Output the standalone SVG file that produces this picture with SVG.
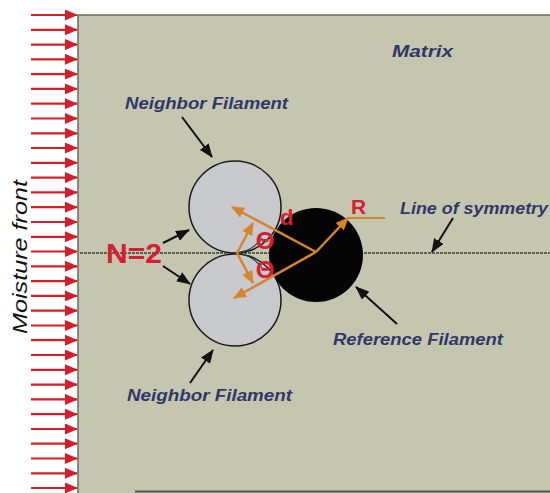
<svg xmlns="http://www.w3.org/2000/svg" width="550" height="493" viewBox="0 0 550 493">
<defs>
<marker id="red" markerWidth="13" markerHeight="11" refX="12" refY="5.5" orient="auto" markerUnits="userSpaceOnUse"><path d="M0,0 L13,5.5 L0,11 Z" fill="#d21f2b"/></marker>
<marker id="blk" markerWidth="14" markerHeight="11" refX="13" refY="5.5" orient="auto" markerUnits="userSpaceOnUse"><path d="M0,0 L14,5.5 L0,11 Z" fill="#111"/></marker>
<marker id="org" markerWidth="13" markerHeight="11" refX="12" refY="5.5" orient="auto" markerUnits="userSpaceOnUse"><path d="M0,0 L13,5.5 L0,11 Z" fill="#d6842e"/></marker>
</defs>
<style>
.lbl{font-family:"Liberation Sans",Arial,sans-serif;font-weight:bold;font-style:italic;font-size:16px;fill:#2f3867}
.red{font-family:"Liberation Sans",Arial,sans-serif;font-weight:bold;fill:#d42030}
.rarr{stroke:#d21f2b;stroke-width:2.2;marker-end:url(#red)}
.barr{stroke:#111;stroke-width:2;marker-end:url(#blk)}
.oarr{stroke:#d6842e;stroke-width:2.5;marker-end:url(#org)}
</style>
<rect width="550" height="493" fill="#ffffff"/>
<g id="matrix">
<rect x="78" y="15" width="474" height="480" fill="#c5c6b0" stroke="#6a6a60" stroke-width="1.5"/>
<line x1="135" y1="491.5" x2="550" y2="491.5" stroke="#55574c" stroke-width="2"/>
<text class="lbl" x="392" y="57" textLength="61" lengthAdjust="spacingAndGlyphs">Matrix</text>
</g>
<g id="moisture-front">
<g class="rarr">
<line x1="31" y1="15" x2="77" y2="15"/><line x1="31" y1="29.8" x2="77" y2="29.8"/><line x1="31" y1="44.6" x2="77" y2="44.6"/><line x1="31" y1="59.3" x2="77" y2="59.3"/><line x1="31" y1="74.1" x2="77" y2="74.1"/><line x1="31" y1="88.9" x2="77" y2="88.9"/><line x1="31" y1="103.7" x2="77" y2="103.7"/><line x1="31" y1="118.5" x2="77" y2="118.5"/><line x1="31" y1="133.3" x2="77" y2="133.3"/><line x1="31" y1="148" x2="77" y2="148"/><line x1="31" y1="162.8" x2="77" y2="162.8"/><line x1="31" y1="177.6" x2="77" y2="177.6"/><line x1="31" y1="192.4" x2="77" y2="192.4"/><line x1="31" y1="207.2" x2="77" y2="207.2"/><line x1="31" y1="222" x2="77" y2="222"/><line x1="31" y1="236.8" x2="77" y2="236.8"/><line x1="31" y1="251.5" x2="77" y2="251.5"/><line x1="31" y1="266.3" x2="77" y2="266.3"/><line x1="31" y1="281.1" x2="77" y2="281.1"/><line x1="31" y1="295.9" x2="77" y2="295.9"/><line x1="31" y1="310.7" x2="77" y2="310.7"/><line x1="31" y1="325.5" x2="77" y2="325.5"/><line x1="31" y1="340.2" x2="77" y2="340.2"/><line x1="31" y1="355" x2="77" y2="355"/><line x1="31" y1="369.8" x2="77" y2="369.8"/><line x1="31" y1="384.6" x2="77" y2="384.6"/><line x1="31" y1="399.4" x2="77" y2="399.4"/><line x1="31" y1="414.2" x2="77" y2="414.2"/><line x1="31" y1="429" x2="77" y2="429"/><line x1="31" y1="443.7" x2="77" y2="443.7"/><line x1="31" y1="458.5" x2="77" y2="458.5"/><line x1="31" y1="473.3" x2="77" y2="473.3"/><line x1="31" y1="488" x2="77" y2="488"/>
</g>
<text x="0" y="0" transform="translate(27,334) rotate(-90)" font-family="'Liberation Sans',Arial,sans-serif" font-style="italic" font-size="21" fill="#111" textLength="154" lengthAdjust="spacingAndGlyphs">Moisture front</text>
</g>
<g id="symmetry-line">
<line x1="80" y1="253" x2="550" y2="253" stroke="#3e3f36" stroke-width="1.5" stroke-dasharray="3,1"/>
<text class="lbl" x="400" y="214" textLength="148" lengthAdjust="spacingAndGlyphs">Line of symmetry</text>
</g>
<g id="neighbor-top">
<circle cx="235" cy="207" r="46" fill="#c8c9cc" stroke="#1a1a1a" stroke-width="1.5"/>
<text class="lbl" x="125" y="109" textLength="163" lengthAdjust="spacingAndGlyphs">Neighbor Filament</text>
</g>
<g id="neighbor-bottom">
<circle cx="235" cy="300" r="46" fill="#c8c9cc" stroke="#1a1a1a" stroke-width="1.5"/>
<text class="lbl" x="127" y="401" textLength="165" lengthAdjust="spacingAndGlyphs">Neighbor Filament</text>
</g>
<g id="reference">
<circle cx="316" cy="255" r="47" fill="#050505"/>
<text class="lbl" x="333" y="345" textLength="170" lengthAdjust="spacingAndGlyphs">Reference Filament</text>
</g>
<g id="connectors">
<line class="barr" x1="182" y1="117" x2="212" y2="157"/>
<line class="barr" x1="190" y1="383" x2="213" y2="350"/>
<line class="barr" x1="397" y1="324" x2="356" y2="287"/>
<line class="barr" x1="453" y1="218" x2="432" y2="252"/>
<line class="barr" x1="163" y1="243" x2="189" y2="230"/>
<line class="barr" x1="163" y1="266" x2="190" y2="284"/>
<path d="M228,253 C245,252 255,258 262,268 M228,253 C245,254 255,248 262,238" fill="none" stroke="#2a3a3a" stroke-width="1.2"/>
<line class="oarr" x1="316" y1="252" x2="232" y2="207"/>
<line class="oarr" x1="316" y1="252" x2="234" y2="298"/>
<line class="oarr" x1="316" y1="252" x2="348" y2="218"/>
<line x1="347" y1="218" x2="385" y2="218" stroke="#d6842e" stroke-width="2"/>
<line class="oarr" x1="237" y1="253" x2="253" y2="223"/>
<line class="oarr" x1="237" y1="253" x2="253" y2="283"/>
</g>
<g id="labels">
<text class="red" x="106" y="263" font-size="27" textLength="56" lengthAdjust="spacingAndGlyphs">N=2</text>
<text class="red" x="280" y="225" font-size="22">d</text>
<text class="red" x="351" y="214" font-size="21">R</text>
<text class="red" x="265" y="249" font-size="24" text-anchor="middle">Θ</text>
<text class="red" x="265" y="278" font-size="24" text-anchor="middle">Θ</text>
</g>
</svg>
